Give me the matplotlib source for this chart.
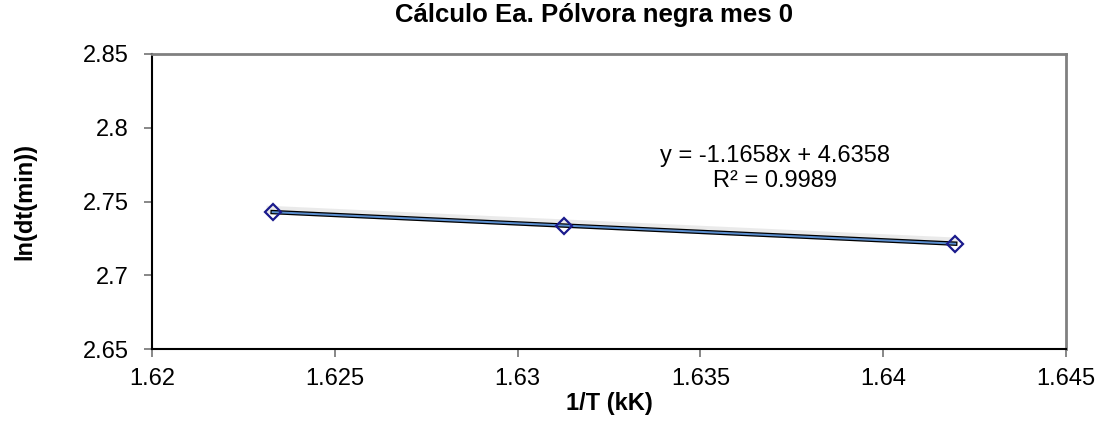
import numpy as np
import matplotlib
matplotlib.use("Agg")
import matplotlib.pyplot as plt
import matplotlib.patheffects as pe

plt.rcParams['font.family'] = ['Liberation Sans', 'DejaVu Sans']

# datos: 1/T (kK) vs ln(dt(min))
inv_T = [1.62330, 1.63128, 1.64197]
ln_dt = [2.7428, 2.7337, 2.7214]
eq_text = "y = -1.1658x + 4.6358\nR² = 0.9989"
x_ticks = [1.62, 1.625, 1.63, 1.635, 1.64, 1.645]
y_ticks = [2.65, 2.7, 2.75, 2.8, 2.85]
x_tick_labels = ["1.62", "1.625", "1.63", "1.635", "1.64", "1.645"]
y_tick_labels = ["2.65", "2.7", "2.75", "2.8", "2.85"]

fig = plt.figure(figsize=(11.04, 4.28), dpi=100)
ax = fig.add_axes([152 / 1104, 79 / 428, 914 / 1104, 295 / 428])

# linea de tendencia (ajuste lineal)
m, b = np.polyfit(inv_T, ln_dt, 1)
xs = np.array([min(inv_T), max(inv_T)])
shadow = [pe.SimpleLineShadow(offset=(-1.5, 1.5), shadow_color="0.6", alpha=0.2, linewidth=6),
          pe.Normal()]
ax.plot(xs, m * xs + b, color="black", lw=3.2, zorder=2, path_effects=shadow)
ax.plot(inv_T, ln_dt, color="#5b8fd0", lw=1.4, zorder=3,
        marker="D", markersize=8, markerfacecolor="none",
        markeredgecolor="#1a1a8c", markeredgewidth=1.6)

ax.text(1.63705, 2.7725, eq_text, ha="center", va="center", fontsize=17,
        linespacing=1.15)

ax.set_xlim(1.62, 1.645)
ax.set_ylim(2.65, 2.85)
ax.set_xticks(x_ticks)
ax.set_xticklabels(x_tick_labels)
ax.set_yticks(y_ticks)
ax.set_yticklabels(y_tick_labels)
ax.tick_params(labelsize=17, direction="out", length=6, width=1.2, color="0.45")
ax.tick_params(axis="x", pad=8)
ax.tick_params(axis="y", pad=11)

for s in ["top", "right"]:
    ax.spines[s].set_color("0.5")
    ax.spines[s].set_linewidth(2)
for s in ["left", "bottom"]:
    ax.spines[s].set_color("black")
    ax.spines[s].set_linewidth(1.5)

ax.set_xlabel("1/T (kK)", fontsize=17, fontweight="bold", labelpad=1)
ax.set_ylabel("ln(dt(min))", fontsize=17, fontweight="bold", labelpad=33)
fig.text(594 / 1104, 1 - 15 / 428, "Cálculo Ea. Pólvora negra mes 0",
         ha="center", va="center", fontsize=18.5, fontweight="bold")

fig.savefig("out.png", dpi=100)
